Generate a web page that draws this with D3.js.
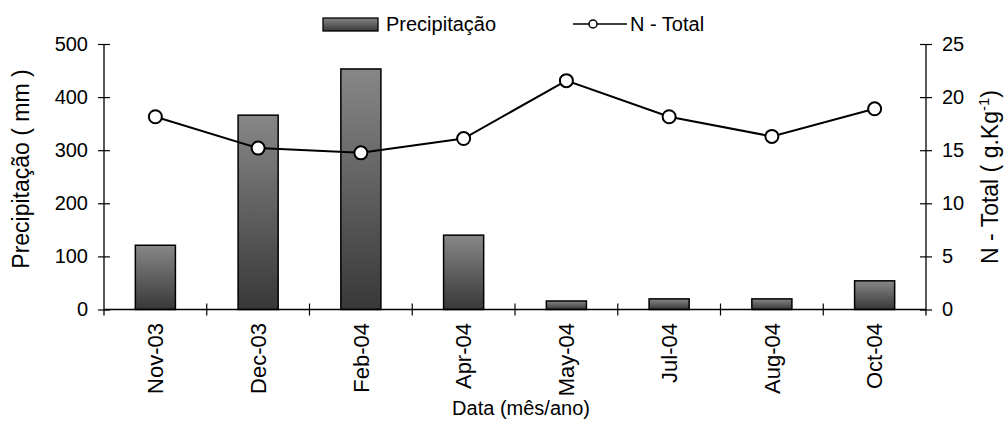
<!DOCTYPE html>
<html>
<head>
<meta charset="utf-8">
<script src="https://cdn.jsdelivr.net/npm/d3@7"></script>
<style>
  body { margin: 0; background: #fff; }
  svg { display: block; font-family: "Liberation Sans", Arial, sans-serif; }
</style>
</head>
<body>
<svg id="chart" width="1004" height="421"></svg>
<script>
// data
const months = ['Nov-03', 'Dec-03', 'Feb-04', 'Apr-04', 'May-04', 'Jul-04', 'Aug-04', 'Oct-04'];
const precip = [121, 366, 453, 140, 16, 20, 20, 54];
const nTotal = [18.15, 15.2, 14.75, 16.1, 21.55, 18.15, 16.3, 18.9];
const precipTicks = [0, 100, 200, 300, 400, 500];
const nTicks = [0, 5, 10, 15, 20, 25];

const svg = d3.select('#chart');

var plot = { left: 104, right: 926, top: 44, bottom: 309.5 };

var x = d3.scaleBand()
    .domain(months)
    .range([plot.left, plot.right])
    .padding(0);

var yL = d3.scaleLinear().domain([0, 500]).range([plot.bottom, plot.top]);
var yR = d3.scaleLinear().domain([0, 25]).range([plot.bottom, plot.top]);

var barW = x.bandwidth() * 0.39;

// gradient for bars
var defs = svg.append('defs');
var grad = defs.append('linearGradient')
    .attr('id', 'barGrad')
    .attr('x1', 0).attr('y1', 0).attr('x2', 0).attr('y2', 1);
grad.append('stop').attr('offset', '0%').attr('stop-color', '#878787');
grad.append('stop').attr('offset', '100%').attr('stop-color', '#383838');

///////////////////////////////
// bars
///////////////////////////////
svg.append('g')
    .selectAll('rect')
    .data(precip)
    .enter()
    .append('rect')
        .attr('x', (d, i) => x(months[i]) + x.bandwidth() / 2 - barW / 2)
        .attr('y', d => yL(d))
        .attr('width', barW)
        .attr('height', d => yL(0) - yL(d))
        .attr('fill', 'url(#barGrad)')
        .attr('stroke', '#000')
        .attr('stroke-width', 1.5);

///////////////////////////////
// axes
///////////////////////////////
const crossTicks = (g, size) => {
    g.select('.domain').remove();
    g.selectAll('.tick line').attr('x1', -size).attr('x2', size).attr('stroke', '#000').attr('stroke-width', 1.2);
    g.selectAll('.tick text').attr('font-size', 20).attr('fill', '#000');
};

var axL = svg.append('g')
    .attr('transform', `translate(${plot.left},0)`)
    .call(d3.axisLeft(yL).tickValues(precipTicks).tickSize(6).tickPadding(10));
crossTicks(axL, 6);
axL.append('line')
    .attr('y1', plot.top).attr('y2', plot.bottom + 6)
    .attr('stroke', '#000').attr('stroke-width', 1.3);

var axR = svg.append('g')
    .attr('transform', `translate(${plot.right},0)`)
    .call(d3.axisRight(yR).tickValues(nTicks).tickSize(6).tickPadding(10));
crossTicks(axR, 6);
axR.append('line')
    .attr('y1', plot.top).attr('y2', plot.bottom + 6)
    .attr('stroke', '#000').attr('stroke-width', 1.3);

// bottom axis
var axB = svg.append('g');
axB.append('line')
    .attr('x1', plot.left).attr('x2', plot.right)
    .attr('y1', plot.bottom).attr('y2', plot.bottom)
    .attr('stroke', '#000').attr('stroke-width', 1.3);

var bounds = months.slice(1).map(m => x(m));
axB.selectAll('line.sep')
    .data(bounds)
    .enter()
    .append('line')
        .attr('class', 'sep')
        .attr('x1', d => d).attr('x2', d => d)
        .attr('y1', plot.bottom - 6).attr('y2', plot.bottom + 6)
        .attr('stroke', '#000').attr('stroke-width', 1.2);

axB.selectAll('text.lab')
    .data(months)
    .enter()
    .append('text')
        .attr('class', 'lab')
        .attr('transform', d => `translate(${x(d) + x.bandwidth() / 2},323) rotate(-90)`)
        .attr('text-anchor', 'end')
        .attr('dy', '0.35em')
        .attr('font-size', 22)
        .text(d => d);

///////////////////////////////
// N - Total line
///////////////////////////////
var line = d3.line()
    .x((d, i) => x(months[i]) + x.bandwidth() / 2)
    .y(d => yR(d));

svg.append('path')
    .datum(nTotal)
    .attr('d', line)
    .attr('fill', 'none')
    .attr('stroke', '#000')
    .attr('stroke-width', 2);

svg.append('g')
    .selectAll('circle')
    .data(nTotal)
    .enter()
    .append('circle')
        .attr('cx', (d, i) => x(months[i]) + x.bandwidth() / 2)
        .attr('cy', d => yR(d))
        .attr('r', 6.5)
        .attr('fill', '#fff')
        .attr('stroke', '#000')
        .attr('stroke-width', 2);

///////////////////////////////
// titles
///////////////////////////////
svg.append('text')
    .attr('transform', 'translate(21,169) rotate(-90)')
    .attr('text-anchor', 'middle')
    .attr('dy', '0.35em')
    .attr('font-size', 23)
    .text('Precipitação ( mm )');

var rt = svg.append('text')
    .attr('transform', 'translate(990,177) rotate(-90)')
    .attr('text-anchor', 'middle')
    .attr('dy', '0.35em')
    .attr('font-size', 23);
rt.append('tspan').text('N - Total ( g.Kg');
rt.append('tspan').attr('font-size', 15).attr('dy', '-0.6em').text('-1');
rt.append('tspan').attr('dy', '0.4em').text(')');

svg.append('text')
    .attr('x', (plot.left + plot.right) / 2 + 6)
    .attr('y', 415)
    .attr('text-anchor', 'middle')
    .attr('font-size', 20)
    .text('Data (mês/ano)');

///////////////////////////////
// legend
///////////////////////////////
var leg = svg.append('g');
leg.append('rect')
    .attr('x', 323).attr('y', 18).attr('width', 55).attr('height', 13)
    .attr('fill', 'url(#barGrad)')
    .attr('stroke', '#000').attr('stroke-width', 1.3);
leg.append('text')
    .attr('x', 386).attr('y', 31)
    .attr('font-size', 20)
    .text('Precipitação');

leg.append('line')
    .attr('x1', 573).attr('x2', 627).attr('y1', 24).attr('y2', 24)
    .attr('stroke', '#000').attr('stroke-width', 1.5);
leg.append('circle')
    .attr('cx', 593).attr('cy', 24).attr('r', 4)
    .attr('fill', '#fff').attr('stroke', '#000').attr('stroke-width', 1.5);
leg.append('text')
    .attr('x', 630).attr('y', 31)
    .attr('font-size', 20)
    .text('N - Total');
</script>
</body>
</html>
